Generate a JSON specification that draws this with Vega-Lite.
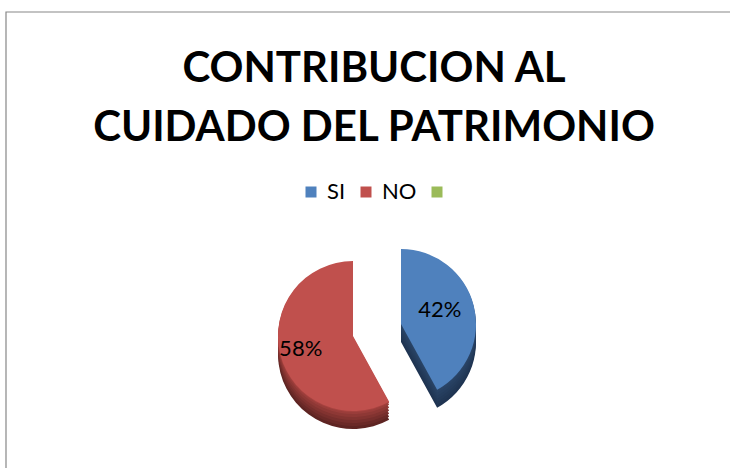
{
  "$schema": "https://vega.github.io/schema/vega-lite/v6.json",
  "autosize": {"type": "none"},
  "width": 724,
  "height": 456,
  "padding": {"left": 6, "top": 12, "right": 0, "bottom": 0},
  "background": "white",
  "config": {
    "view": {"stroke": null},
    "font": "Lato"
  },
  "title": {
    "text": ["CONTRIBUCION AL", "CUIDADO DEL PATRIMONIO"],
    "orient": "top",
    "anchor": "middle",
    "frame": "group",
    "offset": -139,
    "dx": 6,
    "font": "Lato",
    "fontSize": 42,
    "fontWeight": "bold",
    "color": "#000000",
    "lineHeight": 59
  },
  "data": {
    "values": [
      {"cat": "SI", "value": 0.42},
      {"cat": "NO", "value": 0.58}
    ]
  },
  "layer": [
    {
      "data": {"values": [{}]},
      "mark": {"type": "rect", "fill": null, "stroke": "#878787", "strokeWidth": 1.2},
      "encoding": {
        "x": {"value": 0},
        "y": {"value": 0},
        "x2": {"value": {"expr": "width + 12"}},
        "y2": {"value": {"expr": "height + 12"}}
      }
    },
    {
      "encoding": {
        "theta": {"field": "value", "type": "quantitative", "stack": true},
        "order": {"field": "cat", "type": "nominal", "sort": "descending"}
      },
      "layer": [
        {"mark": {"type": "arc", "outerRadius": 75, "color": {"expr": "datum.cat === 'SI' ? '#1F3452' : '#5E2422'"}, "xOffset": {"expr": "datum.cat === 'SI' ? 33 : -15"}, "yOffset": {"expr": "datum.cat === 'SI' ? 102 : 114"}}, "encoding": {}},
        {"mark": {"type": "arc", "outerRadius": 75, "color": {"expr": "datum.cat === 'SI' ? '#213755' : '#6A2927'"}, "xOffset": {"expr": "datum.cat === 'SI' ? 33 : -15"}, "yOffset": {"expr": "datum.cat === 'SI' ? 99 : 111"}}, "encoding": {}},
        {"mark": {"type": "arc", "outerRadius": 75, "color": {"expr": "datum.cat === 'SI' ? '#233A59' : '#762E2C'"}, "xOffset": {"expr": "datum.cat === 'SI' ? 33 : -15"}, "yOffset": {"expr": "datum.cat === 'SI' ? 96 : 108"}}, "encoding": {}},
        {"mark": {"type": "arc", "outerRadius": 75, "color": {"expr": "datum.cat === 'SI' ? '#253D5D' : '#823330'"}, "xOffset": {"expr": "datum.cat === 'SI' ? 33 : -15"}, "yOffset": {"expr": "datum.cat === 'SI' ? 93 : 105"}}, "encoding": {}},
        {"mark": {"type": "arc", "outerRadius": 75, "color": {"expr": "datum.cat === 'SI' ? '#274061' : '#8E3835'"}, "xOffset": {"expr": "datum.cat === 'SI' ? 33 : -15"}, "yOffset": {"expr": "datum.cat === 'SI' ? 90 : 102"}}, "encoding": {}},
        {"mark": {"type": "arc", "outerRadius": 75, "color": {"expr": "datum.cat === 'SI' ? '#294365' : '#9A3D3A'"}, "xOffset": {"expr": "datum.cat === 'SI' ? 33 : -15"}, "yOffset": {"expr": "datum.cat === 'SI' ? 87 : 99"}}, "encoding": {}},
        {"mark": {"type": "arc", "outerRadius": 75, "color": {"expr": "datum.cat === 'SI' ? '#2B4669' : '#A6423F'"}, "xOffset": {"expr": "datum.cat === 'SI' ? 33 : -15"}, "yOffset": {"expr": "datum.cat === 'SI' ? 85 : 97"}}, "encoding": {}},
        {
          "mark": {"type": "arc", "outerRadius": 75, "xOffset": {"expr": "datum.cat === 'SI' ? 33 : -15"}, "yOffset": {"expr": "datum.cat === 'SI' ? 84 : 96"}},
          "encoding": {
            "color": {
              "field": "cat",
              "type": "nominal",
              "scale": {"domain": ["SI", "NO", ""], "range": ["#4F81BD", "#C0504D", "#9BBB59"]},
              "legend": {
                "title": null,
                "orient": "none",
                "direction": "horizontal",
                "legendX": 294,
                "legendY": 169,
                "padding": 0,
                "symbolType": "square",
                "symbolSize": 121,
                "symbolStrokeWidth": 0,
                "labelFontSize": 22,
                "labelFont": "Lato",
                "labelColor": "#000000",
                "labelOffset": 5,
                "columnPadding": 9
              }
            }
          }
        },
        {
          "mark": {"type": "text", "radius": {"expr": "datum.cat === 'SI' ? 40 : 54"}, "fontSize": 22, "font": "Lato", "color": "#000000", "xOffset": {"expr": "datum.cat === 'SI' ? 33 : -15"}, "yOffset": {"expr": "datum.cat === 'SI' ? 80 : 96"}},
          "encoding": {
            "text": {"field": "value", "type": "quantitative", "format": ".0%"}
          }
        }
      ]
    }
  ]
}
